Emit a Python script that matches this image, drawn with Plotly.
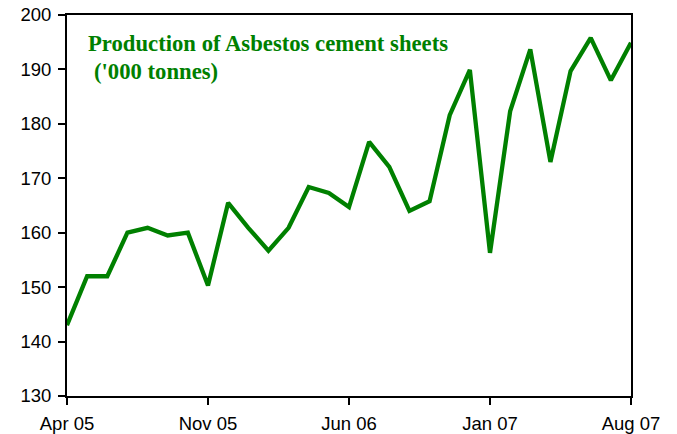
import plotly.graph_objects as go

# Monthly production, Apr 2005 - Aug 2007 ('000 tonnes)
months = ["Apr 05", "May 05", "Jun 05", "Jul 05", "Aug 05", "Sep 05", "Oct 05",
          "Nov 05", "Dec 05", "Jan 06", "Feb 06", "Mar 06", "Apr 06", "May 06",
          "Jun 06", "Jul 06", "Aug 06", "Sep 06", "Oct 06", "Nov 06", "Dec 06",
          "Jan 07", "Feb 07", "Mar 07", "Apr 07", "May 07", "Jun 07", "Jul 07",
          "Aug 07"]
production = [143.0, 152.0, 152.0, 160.0, 160.9, 159.5, 160.0,
              150.3, 165.5, 160.9, 156.7, 160.9, 168.4, 167.3,
              164.7, 176.7, 172.1, 164.0, 165.8, 181.6, 189.9,
              156.3, 182.3, 193.7, 173.0, 189.7, 195.8, 188.0,
              194.9]
tick_labels = ["Apr 05", "Nov 05", "Jun 06", "Jan 07", "Aug 07"]
y_ticks = [130, 140, 150, 160, 170, 180, 190, 200]

GREEN = "#008000"

fig = go.Figure(go.Scatter(
    x=months, y=production, mode="lines",
    line=dict(color=GREEN, width=4.3), hoverinfo="x+y",
))

axis_common = dict(
    showline=True, linecolor="black", linewidth=2, mirror=True,
    showgrid=False, zeroline=False, automargin=False,
    ticks="outside", ticklen=7, tickwidth=2, tickcolor="black",
    tickfont=dict(family="Liberation Sans, Arial", size=18.5, color="black"),
)

fig.update_xaxes(type="category", range=[0, len(months) - 1],
                 tickmode="array", tickvals=tick_labels, ticktext=tick_labels,
                 ticklabelstandoff=3, **axis_common)
fig.update_yaxes(range=[130, 200], tickmode="array", tickvals=y_ticks,
                 ticklabelstandoff=3, **axis_common)

title_font = dict(family="Liberation Serif, Times New Roman", size=22.7, color=GREEN)
fig.add_annotation(text="<b>Production of Asbestos cement sheets</b>",
                   xref="paper", yref="paper", x=0.033, y=0.924,
                   xanchor="left", yanchor="middle", showarrow=False,
                   font=title_font)
fig.add_annotation(text="<b>('000 tonnes)</b>",
                   xref="paper", yref="paper", x=0.044, y=0.852,
                   xanchor="left", yanchor="middle", showarrow=False,
                   font=title_font)

fig.update_layout(
    width=677, height=434,
    margin=dict(l=67, r=46, t=15, b=38),
    paper_bgcolor="white", plot_bgcolor="white",
    showlegend=False,
)

fig.write_html("out.html")
